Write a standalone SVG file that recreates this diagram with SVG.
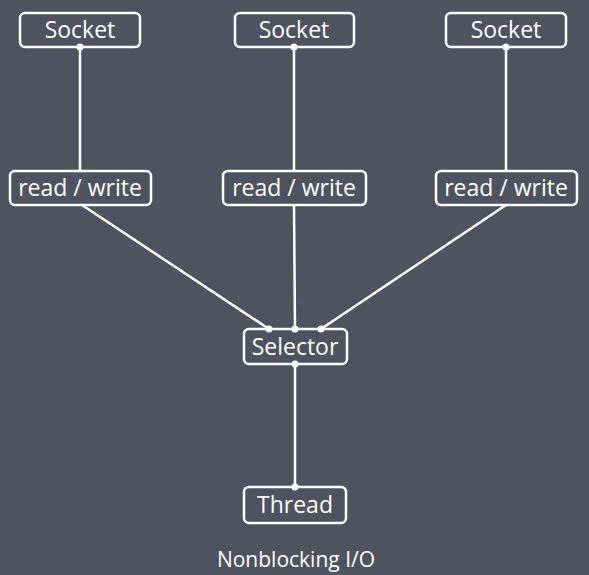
<svg xmlns="http://www.w3.org/2000/svg" width="589" height="575" viewBox="0 0 589 575">
<style>
.box{fill:#4f5360;stroke:#fff;stroke-width:2.5}
.t{fill:#fff;font-family:"Open Sans","Noto Sans",sans-serif;font-size:23px;text-anchor:middle}
.c{stroke:#fff;stroke-width:2.5;fill:none}
.d{fill:#fff}
</style>
<rect width="589" height="575" fill="#4f5360"/>
<g id="connectors">
<line class="c" x1="80" y1="47" x2="80" y2="171"/>
<line class="c" x1="294" y1="47" x2="294" y2="171"/>
<line class="c" x1="506" y1="47" x2="506" y2="171"/>
<line class="c" x1="82" y1="205" x2="269" y2="329"/>
<line class="c" x1="294" y1="205" x2="295" y2="329"/>
<line class="c" x1="506" y1="205" x2="321" y2="329"/>
<line class="c" x1="295" y1="364" x2="295" y2="487"/>
</g>
<g id="socket1"><rect class="box" x="20" y="13" width="120" height="34" rx="5"/><text class="t" x="80" y="38">Socket</text></g>
<g id="socket2"><rect class="box" x="235" y="13" width="119" height="34" rx="5"/><text class="t" x="294" y="38">Socket</text></g>
<g id="socket3"><rect class="box" x="446" y="13" width="120" height="34" rx="5"/><text class="t" x="506" y="38">Socket</text></g>
<g id="rw1"><rect class="box" x="10" y="171" width="141" height="34" rx="5"/><text class="t" x="80" y="196">read / write</text></g>
<g id="rw2"><rect class="box" x="223" y="171" width="143" height="34" rx="5"/><text class="t" x="294" y="196">read / write</text></g>
<g id="rw3"><rect class="box" x="436" y="171" width="141" height="34" rx="5"/><text class="t" x="506" y="196">read / write</text></g>
<g id="selector"><rect class="box" x="244" y="329" width="103" height="35" rx="5"/><text class="t" x="295" y="355">Selector</text></g>
<g id="thread"><rect class="box" x="244" y="487" width="102" height="36" rx="5"/><text class="t" x="295" y="513">Thread</text></g>
<g id="dots">
<circle class="d" cx="80" cy="47" r="3.5"/>
<circle class="d" cx="294" cy="47" r="3.5"/>
<circle class="d" cx="506" cy="47" r="3.5"/>
<circle class="d" cx="269" cy="329" r="3.5"/>
<circle class="d" cx="295" cy="329" r="3.5"/>
<circle class="d" cx="321" cy="329" r="3.5"/>
<circle class="d" cx="295" cy="364" r="3.5"/>
<circle class="d" cx="295" cy="487" r="3.5"/>
</g>
<text class="t" x="296" y="567" style="font-size:21px">Nonblocking I/O</text>
</svg>
